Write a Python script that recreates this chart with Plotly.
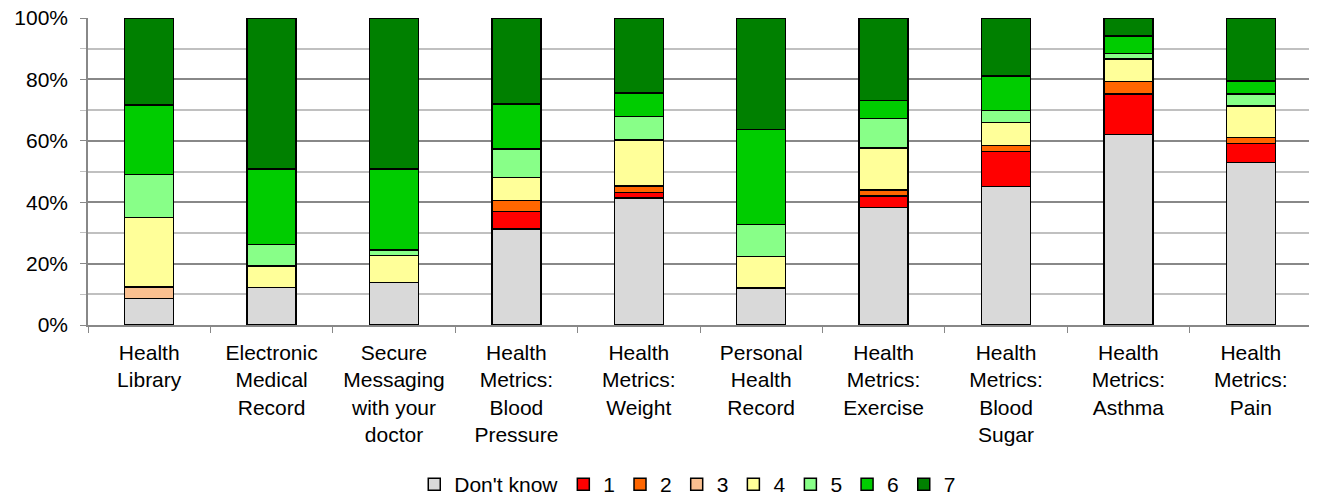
import plotly.graph_objects as go

categories = [
    'Health<br>Library',
    'Electronic<br>Medical<br>Record',
    'Secure<br>Messaging<br>with your<br>doctor',
    'Health<br>Metrics:<br>Blood<br>Pressure',
    'Health<br>Metrics:<br>Weight',
    'Personal<br>Health<br>Record',
    'Health<br>Metrics:<br>Exercise',
    'Health<br>Metrics:<br>Blood<br>Sugar',
    'Health<br>Metrics:<br>Asthma',
    'Health<br>Metrics:<br>Pain',
]

# shares in percent, bottom to top
dont_know = [8.6, 12.2, 13.8, 31.3, 41.4, 12.0, 38.3, 45.1, 62.1, 53.0]
r1 = [0, 0, 0, 5.6, 1.8, 0, 3.8, 11.4, 13.1, 6.1]
r2 = [0, 0, 0, 3.6, 2.0, 0, 1.8, 1.9, 4.1, 1.9]
r3 = [3.7, 0, 0, 0, 0, 0, 0, 0, 0, 0]
r4 = [22.7, 7.0, 8.8, 7.5, 15.1, 10.3, 13.8, 7.5, 7.3, 10.3]
r5 = [14.0, 7.0, 1.8, 9.3, 7.6, 10.4, 9.6, 3.9, 1.9, 4.0]
r6 = [22.7, 24.6, 26.4, 14.7, 7.6, 31.0, 5.9, 11.3, 5.7, 4.2]
r7 = [28.3, 49.2, 49.2, 28.0, 24.5, 36.3, 26.8, 18.9, 5.8, 20.5]

series = [
    ("Don't know", dont_know, '#D9D9D9'),
    ('1', r1, '#FF0000'),
    ('2', r2, '#FF6600'),
    ('3', r3, '#FAC090'),
    ('4', r4, '#FFFF99'),
    ('5', r5, '#88FF88'),
    ('6', r6, '#00CC00'),
    ('7', r7, '#008000'),
]

fig = go.Figure()
for name, vals, color in series:
    fig.add_trace(go.Bar(
        x=categories, y=[v / 100 for v in vals], name=name,
        marker=dict(color=color, line=dict(color='black', width=1.5)),
    ))

# page body has an 8px margin, so the figure is sized to fit what is left
fig.update_layout(
    barmode='stack', bargap=0.6,
    width=1309, height=489,
    margin=dict(l=80, r=5, t=10, b=172, autoexpand=False),
    plot_bgcolor='white', paper_bgcolor='white',
    font=dict(family='Liberation Sans, Arial, sans-serif', size=21, color='black'),
    legend=dict(orientation='h', x=0.49, xanchor='center', y=-0.52, yanchor='middle',
                font=dict(size=21), traceorder='normal', itemwidth=30),
)
fig.update_yaxes(
    range=[0, 1], dtick=0.2, tickformat='.0%', automargin=False,
    ticklabeloverflow='allow',
    showgrid=True, gridcolor='#888888', gridwidth=1.5,
    showline=True, linecolor='#888888', linewidth=1.5,
    ticks='outside', ticklen=6, tickcolor='#888888', ticklabelstandoff=8,
    minor=dict(dtick=0.1, showgrid=True, gridcolor='#C0C0C0', ticks='outside',
               ticklen=6, tickcolor='#C0C0C0'),
    zeroline=False,
)
fig.update_xaxes(
    showline=True, linecolor='#888888', linewidth=1.5, automargin=False,
    ticks='outside', tickson='boundaries', ticklen=6, tickcolor='#888888',
    tickangle=0, ticklabelstandoff=8,
)

fig.write_html("out.html")
